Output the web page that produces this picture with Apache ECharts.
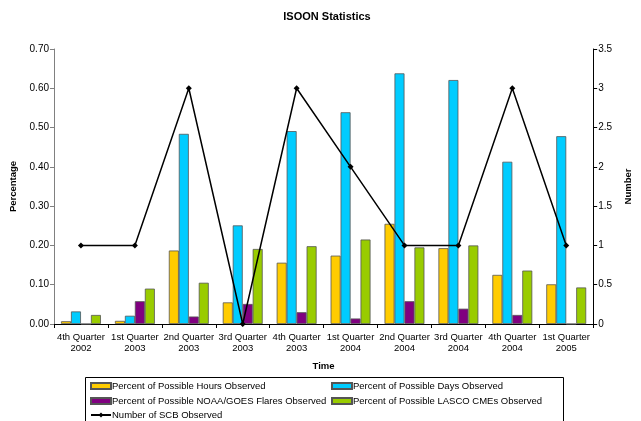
<!DOCTYPE html>
<html>
<head>
<meta charset="utf-8">
<script src="https://cdn.jsdelivr.net/npm/echarts@6/dist/echarts.min.js"></script>
<style>
  html, body { margin: 0; padding: 0; background: #fff; }
  #chart { width: 641px; height: 421px; }
</style>
</head>
<body>
<div id="chart"></div>
<script>
// Quarterly observation statistics
const quarters = [
  '4th Quarter\n2002', '1st Quarter\n2003', '2nd Quarter\n2003', '3rd Quarter\n2003',
  '4th Quarter\n2003', '1st Quarter\n2004', '2nd Quarter\n2004', '3rd Quarter\n2004',
  '4th Quarter\n2004', '1st Quarter\n2005'
];
const hoursObserved  = [0.007, 0.008, 0.187, 0.055, 0.156, 0.174, 0.255, 0.193, 0.125, 0.101];
const daysObserved   = [0.032, 0.021, 0.484, 0.251, 0.491, 0.539, 0.638, 0.621, 0.413, 0.478];
const flaresObserved = [0.000, 0.058, 0.019, 0.051, 0.030, 0.014, 0.058, 0.039, 0.023, 0.000];
const cmesObserved   = [0.023, 0.090, 0.105, 0.191, 0.198, 0.215, 0.195, 0.200, 0.136, 0.093];
const scbCount       = [1, 1, 3, 0, 3, 2, 1, 1, 3, 1];

const names = [
  'Percent of Possible Hours Observed',
  'Percent of Possible Days Observed',
  'Percent of Possible NOAA/GOES Flares Observed',
  'Percent of Possible LASCO CMEs Observed',
  'Number of SCB Observed'
];
const colors = ['#FFCC00', '#00CCFF', '#800080', '#99CC00'];

const FONT = 'Liberation Sans, Arial, sans-serif';

function barSeries(name, data, color) {
  return {
    name: name,
    type: 'bar',
    data: data,
    barGap: '0%',
    barCategoryGap: '26%',
    itemStyle: { color: color, borderColor: '#555', borderWidth: 0.8 },
    emphasis: { disabled: true }
  };
}

// one legend block per entry, laid out in two columns inside a framed box
const legendSlots = [
  { name: names[0], left: 90, top: 381, icon: 'rect' },
  { name: names[1], left: 331, top: 381, icon: 'rect' },
  { name: names[2], left: 90, top: 396, icon: 'rect' },
  { name: names[3], left: 331, top: 396, icon: 'rect' },
  { name: names[4], left: 90, top: 410 }
];
const legends = legendSlots.map(s => {
  const l = {
    data: [s.name],
    left: s.left,
    top: s.top,
    padding: 0,
    itemWidth: 20,
    itemHeight: 6,
    selectedMode: false,
    textStyle: { fontFamily: FONT, fontSize: 9.5, color: '#000', padding: [0, 0, 0, -4] }
  };
  if (s.icon) l.icon = s.icon;
  return l;
});

const chart = echarts.init(document.getElementById('chart'), null, { renderer: 'canvas' });
chart.setOption({
  animation: false,
  backgroundColor: '#fff',
  title: {
    text: 'ISOON Statistics',
    left: 322,
    textAlign: 'center',
    top: 6,
    textStyle: { fontFamily: FONT, fontSize: 11, fontWeight: 'bold', color: '#000' }
  },
  legend: legends,
  graphic: [{
    type: 'rect',
    shape: { x: 85.5, y: 377.5, width: 478, height: 60 },
    style: { fill: 'none', stroke: '#000', lineWidth: 1 },
    silent: true
  }],
  grid: { left: 54, right: 44, top: 49, bottom: 97 },
  xAxis: {
    type: 'category',
    data: quarters,
    name: 'Time',
    nameLocation: 'middle',
    nameGap: 37,
    nameTextStyle: { fontFamily: FONT, fontSize: 9.5, fontWeight: 'bold', color: '#000' },
    axisLine: { lineStyle: { color: '#000', width: 1 } },
    axisTick: { show: true, length: 4, lineStyle: { color: '#000' } },
    axisLabel: { fontFamily: FONT, fontSize: 9.5, color: '#000', lineHeight: 11, margin: 8, interval: 0 }
  },
  yAxis: [{
    type: 'value',
    min: 0, max: 0.7, interval: 0.1,
    name: 'Percentage',
    nameLocation: 'middle',
    nameGap: 32,
    nameRotate: 90,
    nameTextStyle: { fontFamily: FONT, fontSize: 9.5, fontWeight: 'bold', color: '#000' },
    axisLine: { show: true, lineStyle: { color: '#808080', width: 1 } },
    axisTick: { show: true, length: 4, lineStyle: { color: '#808080' } },
    splitLine: { show: false },
    axisLabel: { fontFamily: FONT, fontSize: 10, color: '#000', margin: 5, formatter: v => v.toFixed(2) }
  }, {
    type: 'value',
    min: 0, max: 3.5, interval: 0.5,
    name: 'Number',
    nameLocation: 'middle',
    nameGap: 23,
    nameRotate: 90,
    nameTextStyle: { fontFamily: FONT, fontSize: 9.5, fontWeight: 'bold', color: '#000' },
    axisLine: { show: true, lineStyle: { color: '#000', width: 1 } },
    axisTick: { show: true, length: 4, lineStyle: { color: '#000' } },
    splitLine: { show: false },
    axisLabel: { fontFamily: FONT, fontSize: 10, color: '#000', margin: 5 }
  }],
  series: [
    barSeries(names[0], hoursObserved, colors[0]),
    barSeries(names[1], daysObserved, colors[1]),
    barSeries(names[2], flaresObserved, colors[2]),
    barSeries(names[3], cmesObserved, colors[3]),
    {
      name: names[4],
      type: 'line',
      yAxisIndex: 1,
      data: scbCount,
      symbol: 'diamond',
      symbolSize: 6,
      lineStyle: { color: '#000', width: 1.5 },
      itemStyle: { color: '#000' },
      emphasis: { disabled: true },
      z: 5
    }
  ]
});
</script>
</body>
</html>
